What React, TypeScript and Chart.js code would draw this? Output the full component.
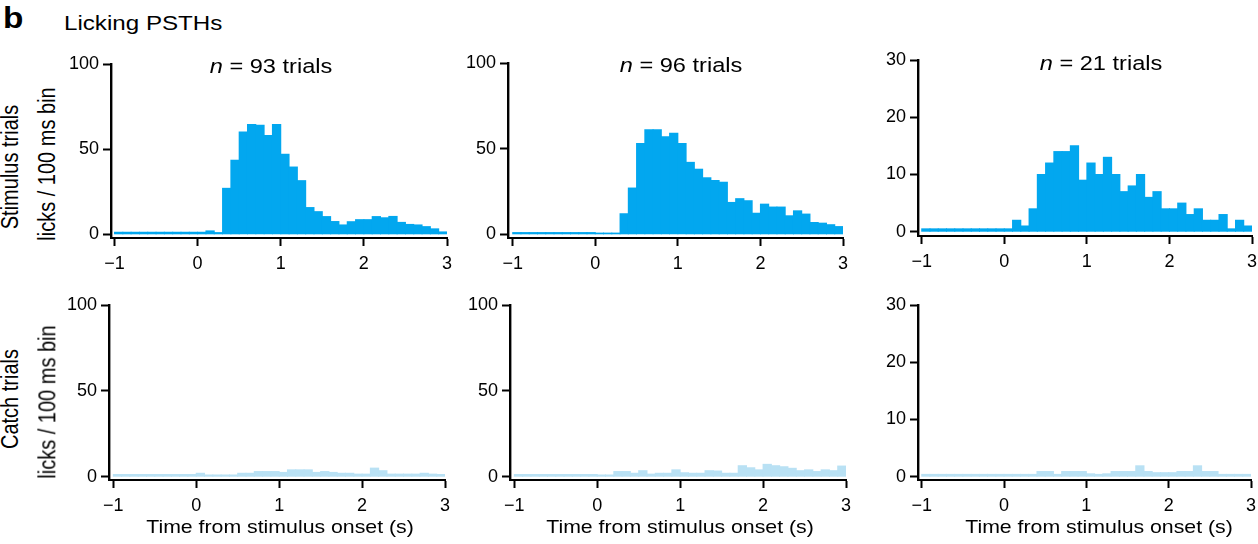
import React, { useEffect, useRef } from 'react';
import { Chart, registerables } from 'chart.js';

Chart.register(...registerables);

// ---------- data ----------
const BIN_START = -1; // s
const BIN_WIDTH = 0.1; // s (100 ms bins)
const BIN_COUNT = 40;
const binCenters: number[] = Array.from({ length: BIN_COUNT }, (_, i) => +(BIN_START + BIN_WIDTH * (i + 0.5)).toFixed(2));

const xTicks = [-1, 0, 1, 2, 3];
const yTicks100 = [0, 50, 100];
const yTicks30 = [0, 10, 20, 30];

const trialCounts = [93, 96, 21];

// Stimulus trials (licks / 100 ms bin)
const stimulus1 = [
  1.2, 1.2, 1.2, 1.2, 1.2, 1.2, 1.2, 1.2, 1.2, 1.2, 1.2, 2, 1,
  27, 43.5, 60, 64.5, 64, 58, 64.5, 47, 39.5, 31.5, 15.7, 13.3, 10.4, 7.5, 5.5,
  7.4, 8.6, 8.6, 10.4, 9.7, 10.5, 7, 5.8, 5.5, 4.5, 3.2, 1.4,
];
const stimulus2 = [
  1, 1, 1, 1, 1, 1, 1, 1, 1, 1, 0.7, 0.7, 0.7,
  12, 27, 53, 61, 61, 57, 59, 53, 42, 38, 33, 31.4, 30.4, 18.6, 20.8,
  19.6, 12.3, 17.6, 15.9, 15.9, 10.8, 13.7, 11.8, 6.9, 6.5, 5.6, 4.5,
];
const stimulus3 = [
  0.5, 0.5, 0.5, 0.5, 0.5, 0.5, 0.5, 0.5, 0.5, 0.5, 0.5, 2, 1,
  4, 10, 12, 14, 14, 15, 9, 12, 10, 13, 10, 7, 8, 10, 6,
  7, 4, 4, 5, 3, 4, 2, 2, 3, 0.5, 2, 1,
];

// Catch trials (licks / 100 ms bin)
const catch1 = [
  1.3, 1.3, 1.3, 1.3, 1.3, 1.3, 1.3, 1.3, 1.3, 1.3, 2, 1, 1, 1, 1,
  2, 2, 3, 3, 3, 2.5, 4, 4, 4, 2.5, 3, 2.5, 2, 2, 1.5,
  1.5, 5, 3.5, 1.5, 1.5, 1.5, 1.5, 2, 1.5, 1.3,
];
const catch2 = [
  1.3, 1.3, 1.3, 1.3, 1.3, 1.3, 1.3, 1.3, 1.3, 1.3, 1, 1, 3, 3, 2,
  3.5, 1.5, 2, 2, 4, 2.3, 2, 2, 3.5, 3.3, 2, 2, 6.4, 5.2, 4,
  7.2, 6.4, 5.8, 4.9, 3.5, 4, 3, 4, 3.5, 6.2,
];
const catch3 = [
  0.4, 0.4, 0.4, 0.4, 0.4, 0.4, 0.4, 0.4, 0.4, 0.4, 0.4, 0.4, 0.4, 0.4, 0.9,
  0.9, 0.4, 0.9, 0.9, 0.9, 0.5, 0.4, 0.5, 0.9, 0.9, 0.9, 1.9, 0.9, 0.7, 0.7,
  0.7, 0.9, 0.9, 1.9, 0.9, 0.9, 0.4, 0.4, 0.4, 0.4,
];

// ---------- styles / layout ----------
const FONT = '"Liberation Sans", Arial, Helvetica, sans-serif';
const STIM_COLOR = '#02A7EF';
const CATCH_COLOR = '#B9E1F4';
const Y_AXIS_W = 50;
const X_AXIS_H = 40;
const PAD_TOP = 22;
const PAD_RIGHT = 18;
const TICK_FONT = 18;

type PanelCfg = {
  values: number[];
  color: string;
  yMax: number;
  yTicks: number[];
  xMin: number;
  yMin: number;
  area: { l: number; r: number; t: number; b: number };
};

const PANELS: PanelCfg[] = [
  { values: stimulus1, color: STIM_COLOR, yMax: 100, yTicks: yTicks100, xMin: -1.042, yMin: -2.17, area: { l: 111, r: 447, t: 64, b: 238 } },
  { values: stimulus2, color: STIM_COLOR, yMax: 100, yTicks: yTicks100, xMin: -1.057, yMin: -2.16, area: { l: 508, r: 843, t: 63, b: 238 } },
  { values: stimulus3, color: STIM_COLOR, yMax: 30, yTicks: yTicks30, xMin: -1.045, yMin: -0.75, area: { l: 918, r: 1252, t: 60, b: 236 } },
  { values: catch1, color: CATCH_COLOR, yMax: 100, yTicks: yTicks100, xMin: -1.052, yMin: -1.92, area: { l: 109, r: 445, t: 305, b: 480 } },
  { values: catch2, color: CATCH_COLOR, yMax: 100, yTicks: yTicks100, xMin: -1.052, yMin: -1.92, area: { l: 510, r: 846, t: 305, b: 480 } },
  { values: catch3, color: CATCH_COLOR, yMax: 30, yTicks: yTicks30, xMin: -1.045, yMin: -0.58, area: { l: 918, r: 1251, t: 305, b: 480 } },
];

const fmtTick = (v: number | string) => {
  const n = Number(v);
  return n < 0 ? '\u2212' + Math.abs(n) : String(n);
};

function PsthPanel({ cfg }: { cfg: PanelCfg }) {
  const ref = useRef<HTMLCanvasElement>(null);
  const { area } = cfg;
  const left = area.l - Y_AXIS_W;
  const top = area.t - PAD_TOP;
  const width = area.r - area.l + Y_AXIS_W + PAD_RIGHT;
  const height = area.b - area.t + PAD_TOP + X_AXIS_H;

  useEffect(() => {
    const canvas = ref.current;
    if (!canvas) return;
    const gridOpts = {
      display: true,
      drawOnChartArea: false,
      drawTicks: true,
      tickLength: 8,
      tickWidth: 2,
      tickColor: '#000',
      offset: false,
    };
    const chart = new Chart(canvas, {
      type: 'bar',
      data: {
        datasets: [
          {
            data: cfg.values.map((v, i) => ({ x: binCenters[i], y: v })),
            backgroundColor: cfg.color,
            borderWidth: 0,
            barPercentage: 1,
            categoryPercentage: 1,
            inflateAmount: 0.5,
            grouped: false,
          } as any,
        ],
      },
      options: {
        animation: false,
        responsive: false,
        maintainAspectRatio: false,
        devicePixelRatio: 1,
        events: [],
        layout: { padding: { top: PAD_TOP, right: PAD_RIGHT, bottom: 0, left: 0 } },
        plugins: { legend: { display: false }, tooltip: { enabled: false }, title: { display: false } },
        scales: {
          x: {
            type: 'linear',
            min: cfg.xMin,
            max: 3,
            offset: false,
            afterBuildTicks: (s: any) => {
              s.ticks = xTicks.map((v) => ({ value: v }));
            },
            afterFit: (s: any) => {
              s.height = X_AXIS_H;
            },
            grid: gridOpts,
            border: { display: true, color: '#000', width: 2 },
            ticks: {
              color: '#000',
              font: { family: FONT, size: TICK_FONT },
              padding: 7,
              maxRotation: 0,
              minRotation: 0,
              autoSkip: false,
              callback: fmtTick,
            },
          },
          y: {
            type: 'linear',
            min: cfg.yMin,
            max: cfg.yMax,
            afterBuildTicks: (s: any) => {
              s.ticks = cfg.yTicks.map((v) => ({ value: v }));
            },
            afterFit: (s: any) => {
              s.width = Y_AXIS_W;
            },
            grid: gridOpts,
            border: { display: true, color: '#000', width: 2.4 },
            ticks: {
              color: '#000',
              font: { family: FONT, size: TICK_FONT },
              padding: 4,
              autoSkip: false,
              callback: fmtTick,
            },
          },
        },
      } as any,
    });
    return () => chart.destroy();
  }, [cfg]);

  return (
    <canvas
      ref={ref}
      width={width}
      height={height}
      style={{ position: 'absolute', left, top, width, height }}
    />
  );
}

const STRETCH = 1.15;
const ASC = 0.8465; // baseline offset factor for line-height = font-size

function HText({ x, baseline, size, align = 'left', bold = false, children }: any) {
  const style: React.CSSProperties = {
    position: 'absolute',
    left: x,
    top: baseline - ASC * size,
    fontSize: size,
    lineHeight: `${size}px`,
    fontWeight: bold ? 'bold' : 'normal',
    whiteSpace: 'nowrap',
    transform: align === 'center' ? `translateX(-50%) scaleX(${STRETCH})` : `scaleX(${STRETCH})`,
    transformOrigin: align === 'center' ? 'center top' : 'left top',
  };
  return <div style={style}>{children}</div>;
}

function VText({ cx, cy, size, children }: any) {
  const style: React.CSSProperties = {
    position: 'absolute',
    left: cx,
    top: cy,
    fontSize: size,
    lineHeight: `${size}px`,
    whiteSpace: 'nowrap',
    transform: `translate(-50%, -50%) rotate(-90deg) scale(1, ${STRETCH})`,
  };
  return <div style={style}>{children}</div>;
}

const titleCenters = [270.5, 681, 1100.5];
const titleBaselines = [73.3, 72.7, 70];
const xTitleCenters = [280, 680, 1098.5];

export default function App() {
  return (
    <div
      style={{
        position: 'fixed',
        left: 0,
        top: 0,
        width: 1258,
        height: 544,
        background: '#fff',
        overflow: 'hidden',
        fontFamily: FONT,
        color: '#000',
      }}
    >
      {PANELS.map((p, i) => (
        <PsthPanel key={i} cfg={p} />
      ))}

      <HText x={3} baseline={28.3} size={29} bold>
        b
      </HText>
      <HText x={63.5} baseline={30} size={21}>
        Licking PSTHs
      </HText>

      {trialCounts.map((n, i) => (
        <HText key={'t' + i} x={titleCenters[i]} baseline={titleBaselines[i]} size={20.5} align="center">
          <span style={{ fontStyle: 'italic' }}>n</span> = {n} trials
        </HText>
      ))}

      <VText cx={10.4} cy={167} size={20}>
        Stimulus trials
      </VText>
      <VText cx={46.5} cy={164} size={20}>
        licks / 100 ms bin
      </VText>
      <VText cx={10.4} cy={399} size={20}>
        Catch trials
      </VText>
      <VText cx={46.5} cy={402} size={20}>
        licks / 100 ms bin
      </VText>

      {xTitleCenters.map((cx, i) => (
        <HText key={'x' + i} x={cx} baseline={533.3} size={18.5} align="center">
          Time from stimulus onset (s)
        </HText>
      ))}
    </div>
  );
}
